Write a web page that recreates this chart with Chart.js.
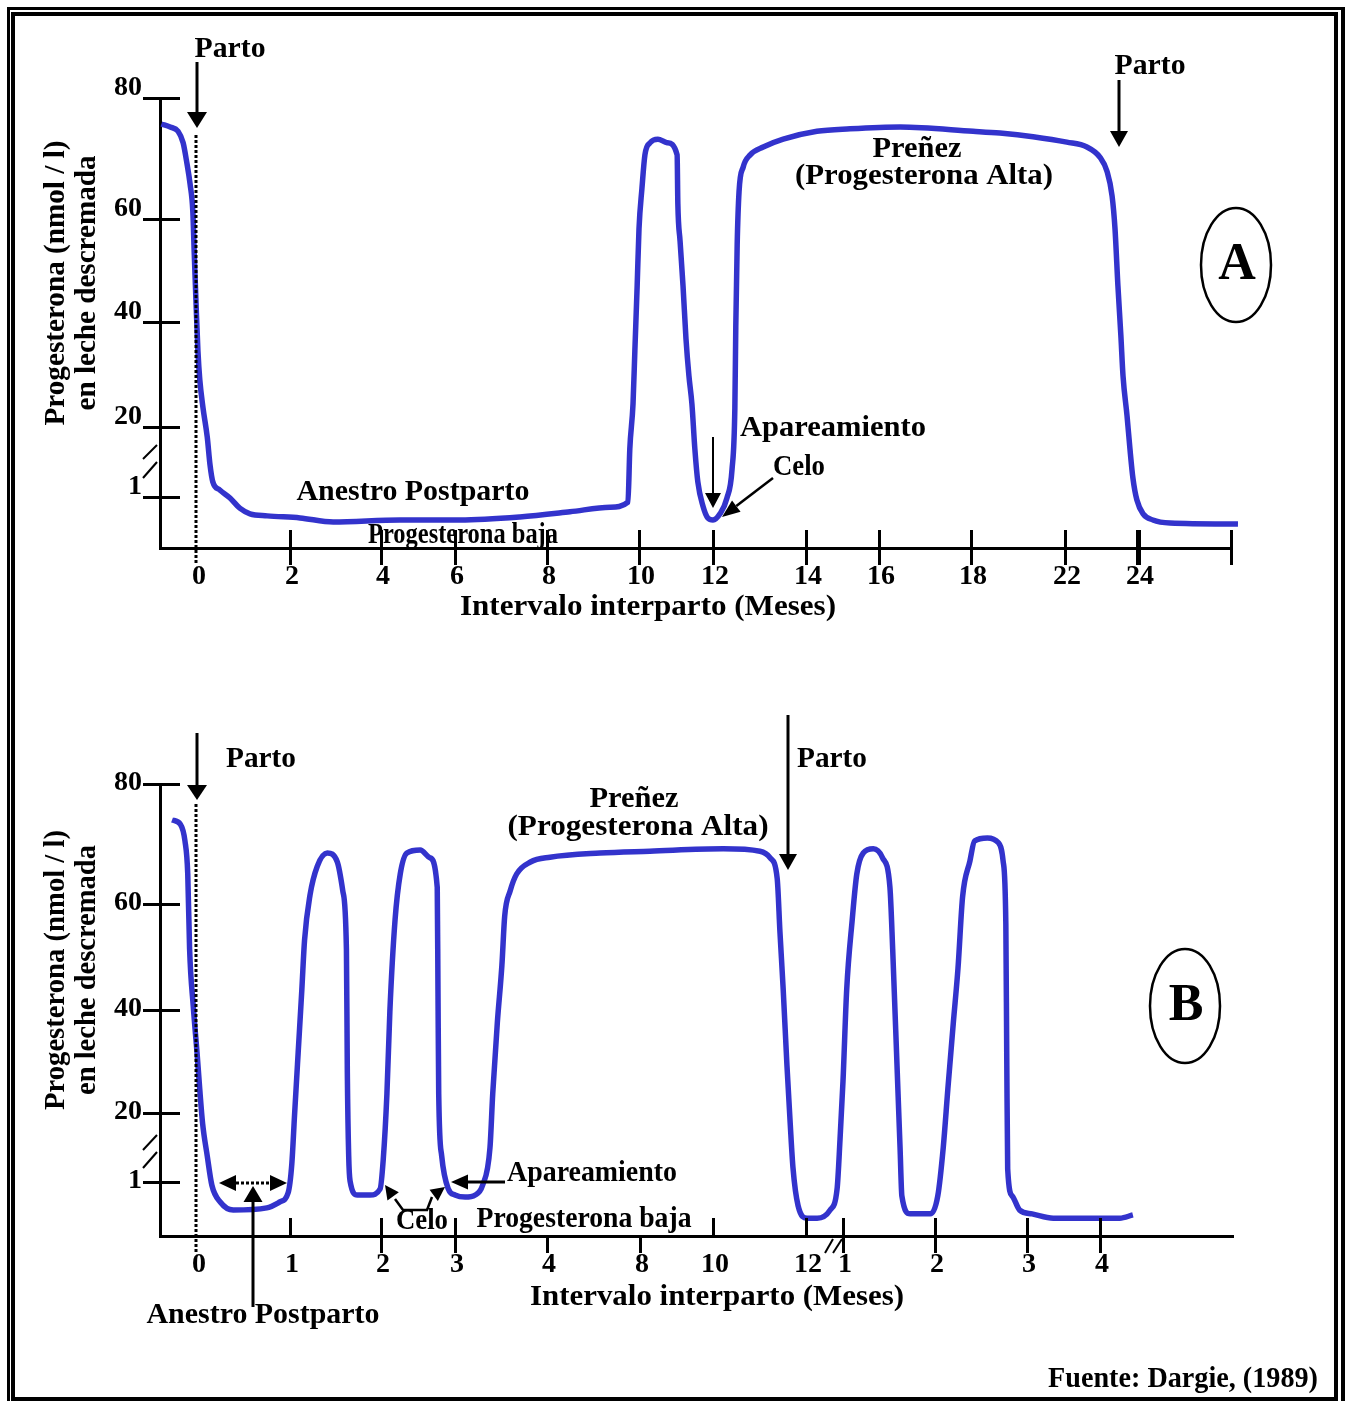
<!DOCTYPE html>
<html>
<head>
<meta charset="utf-8">
<script src="https://cdn.jsdelivr.net/npm/chart.js@4.4.1/dist/chart.umd.min.js"></script>
<style>
  body { margin: 0; background: #fff; }
  #pagina { position: relative; width: 1348px; height: 1401px; overflow: hidden; background: #fff; }
  .marco { position: absolute; box-sizing: border-box; border-style: solid; border-color: #000; }
  #m1 { left: 7px; top: 7px; width: 1338px; height: 1420px; border-width: 3px 4px 3px 3px; }
  #m2 { left: 11px; top: 12px; width: 1327px; height: 1389px; border-width: 4px; }
  canvas { position: absolute; left: 0; top: 0; }
</style>
</head>
<body>
<div id="pagina">
  <div class="marco" id="m1"></div>
  <div class="marco" id="m2"></div>
  <canvas id="graficoA" width="1348" height="1401"></canvas>
  <canvas id="graficoB" width="1348" height="1401"></canvas>
</div>
<script>
// ---------- datos ----------
// Grafico A: un parto cada 24 meses
const mesesA = [-0.77,-0.58,-0.41,-0.30,-0.22,-0.15,-0.09,-0.06,-0.02,0.02,
  0.06,0.13,0.22,0.28,0.34,0.49,0.71,0.92,1.14,1.51,
  2.22,2.95,4.51,6.11,7.41,8.50,9.37,9.76,9.80,9.87,
  9.91,9.96,10.00,10.08,10.16,10.30,10.51,10.76,11.03,11.05,
  11.11,11.19,11.27,11.35,11.43,11.51,11.59,11.73,11.86,12.00,
  12.15,12.30,12.41,12.47,12.49,12.52,12.56,12.65,12.80,13.08,
  13.51,14.30,15.21,16.46,18.09,19.23,20.64,22.05,22.60,22.96,
  23.15,23.29,23.37,23.45,23.53,23.59,23.70,23.78,23.86,23.97,
  24.11,24.32,24.69,26.15];
const progA = [75.7,75.2,74.5,72.6,69.3,65.8,61.2,53.4,43.5,34.5,
  29.0,23.6,17.3,9.7,5.1,2.9,0.98,0.78,0.67,0.63,
  0.59,0.51,0.55,0.55,0.61,0.71,0.80,0.90,14.0,24.4,
  34.5,47.0,58.1,65.1,70.6,72.6,73.2,72.6,70.6,62.5,
  55.7,47.0,36.8,29.7,24.4,14.0,5.1,0.82,0.59,0.55,
  0.67,0.98,8.6,23.6,39.0,55.0,64.5,68.6,70.6,71.9,
  73.2,74.5,74.9,75.2,74.5,74.2,73.6,72.7,71.9,70.2,
  67.9,63.8,58.1,47.0,37.5,29.7,22.1,14.0,6.2,0.94,
  0.67,0.55,0.49,0.47];
const ticksXA = [0,2,4,6,8,10,12,14,16,18,22,24,26];
const etiquetasXA = ['0','2','4','6','8','10','12','14','16','18','22','24',''];

// Grafico B: parto, celos repetidos y nuevo parto (13..16 = meses 1..4 del siguiente)
const mesesB = [-0.27,-0.18,-0.13,-0.10,-0.08,-0.04,0.00,0.03,0.06,0.11,
  0.16,0.25,0.39,0.75,0.89,0.98,1.02,1.05,1.09,1.13,
  1.16,1.22,1.30,1.41,1.52,1.58,1.62,1.63,1.645,1.66,
  1.74,1.88,1.99,2.03,2.08,2.12,2.19,2.26,2.35,2.53,
  2.66,2.76,2.77,2.78,2.82,2.91,3.00,3.11,3.22,3.30,
  3.38,3.41,3.46,3.51,3.54,3.60,3.67,3.82,4.13,6.28,
  8.27,10.22,11.01,11.23,11.38,11.44,11.51,11.59,11.66,11.72,
  11.83,12.03,12.30,12.65,12.84,12.92,13.00,13.04,13.10,13.15,
  13.22,13.33,13.43,13.51,13.54,13.59,13.62,13.64,13.73,13.95,
  14.03,14.09,14.14,14.20,14.25,14.30,14.38,14.43,14.57,14.69,
  14.74,14.77,14.78,14.79,14.84,14.92,15.07,15.36,16.27,16.45];
const progB = [74.0,73.3,70.5,65.0,51.5,40.6,31.8,24.5,17.2,8.2,
  0.94,0.63,0.48,0.52,0.63,0.80,6.0,19.4,31.8,43.8,
  53.2,61.5,66.3,68.5,67.0,62.2,51.5,27.8,8.2,1.3,
  0.76,0.76,0.87,7.1,23.7,39.8,57.0,65.0,68.5,69.0,
  67.7,62.8,43.8,23.7,8.2,0.87,0.76,0.72,0.76,0.94,
  10.4,23.7,37.5,48.5,57.7,62.2,65.0,67.0,67.8,68.5,
  68.8,69.2,68.8,67.7,64.3,54.7,43.8,29.3,17.2,4.9,
  0.56,0.33,0.33,0.48,0.87,12.8,26.2,43.8,57.0,65.0,
  68.5,69.2,67.7,62.8,51.5,27.8,10.6,0.74,0.41,0.41,
  0.74,10.6,24.7,37.7,47.9,61.2,67.2,70.5,71.0,70.2,
  67.2,56.2,30.7,4.6,0.74,0.48,0.41,0.33,0.33,0.39];
const ticksXB = [0,1,2,3,4,8,10,12,13,14,15,16];
const etiquetasXB = ['0','1','2','3','4','8','10','12','1','2','3','4'];

const ticksY = [1,20,40,60,80];
const etiquetasY = ['1','20','40','60','80'];

// ---------- escala por tramos (eje cortado, separaciones desiguales) ----------
const TRAMOS = {
  'A-x': { valores: [-0.8,0,2,4,6,8,10,12,14,16,18,22,24,26], px: [0,37,130,221,295,387,479,553,646,719,811,905,978,1071] },
  'A-y': { valores: [0,1,20,40,60,80], px: [0,51,121,226,329,450] },
  'B-x': { valores: [-0.4,0,1,2,3,4,8,10,12,13,14,15,16,17.82], px: [0,37,130,221,295,387,480,553,646,683,775,867,940,1073] },
  'B-y': { valores: [0,1,20,40,60,80], px: [0,54,123,226,332,452] }
};

function interpola(v, xs, ys) {
  const n = xs.length;
  let i = 1;
  if (v >= xs[n - 1]) i = n - 1;
  else if (v > xs[0]) { while (v > xs[i]) i++; }
  const t = (v - xs[i - 1]) / (xs[i] - xs[i - 1]);
  return ys[i - 1] + t * (ys[i] - ys[i - 1]);
}

class EscalaTramos extends Chart.LinearScale {
  getPixelForValue(v) {
    if (v === null || v === undefined || isNaN(v)) return NaN;
    const t = TRAMOS[this.options.clave];
    const off = interpola(v, t.valores, t.px);
    return this.isHorizontal() ? this.left + off : this.bottom - off;
  }
  getValueForPixel(p) {
    const t = TRAMOS[this.options.clave];
    const off = this.isHorizontal() ? p - this.left : this.bottom - p;
    return interpola(off, t.px, t.valores);
  }
}
EscalaTramos.id = 'tramos';
Chart.register(EscalaTramos);

// ---------- dibujo de anotaciones ----------
const FUENTE = '"Liberation Serif", "Times New Roman", serif';
const azul = '#3333cc';

function texto(ctx, s, cx, cy, ancho, tam, rot) {
  ctx.save();
  ctx.font = 'bold ' + (tam || 29) + 'px ' + FUENTE;
  ctx.textAlign = 'center';
  ctx.textBaseline = 'middle';
  ctx.fillStyle = '#000';
  ctx.translate(cx, cy);
  if (rot) ctx.rotate(rot);
  const w = ctx.measureText(s).width;
  if (ancho) ctx.scale(ancho / w, 1);
  ctx.fillText(s, 0, 0);
  ctx.restore();
}

function linea(ctx, pts, lw, guion) {
  ctx.save();
  ctx.lineWidth = lw;
  if (guion) ctx.setLineDash(guion);
  ctx.beginPath();
  ctx.moveTo(pts[0][0], pts[0][1]);
  for (let i = 1; i < pts.length; i++) ctx.lineTo(pts[i][0], pts[i][1]);
  ctx.stroke();
  ctx.restore();
}

function punta(ctx, x1, y1, x2, y2, largo, ancho) {
  const a = Math.atan2(y2 - y1, x2 - x1);
  const bx = x2 - largo * Math.cos(a), by = y2 - largo * Math.sin(a);
  ctx.beginPath();
  ctx.moveTo(x2, y2);
  ctx.lineTo(bx + ancho / 2 * Math.sin(a), by - ancho / 2 * Math.cos(a));
  ctx.lineTo(bx - ancho / 2 * Math.sin(a), by + ancho / 2 * Math.cos(a));
  ctx.closePath();
  ctx.fill();
  return [bx, by];
}

function flecha(ctx, x1, y1, x2, y2, lw, largo, ancho, guion) {
  const b = punta(ctx, x1, y1, x2, y2, largo, ancho);
  linea(ctx, [[x1, y1], b], lw, guion);
}

function elipse(ctx, cx, cy, rx, ry, letra) {
  ctx.save();
  ctx.lineWidth = 2.5;
  ctx.beginPath();
  ctx.ellipse(cx, cy, rx, ry, 0, 0, Math.PI * 2);
  ctx.stroke();
  ctx.restore();
  texto(ctx, letra, cx + 1, cy + 1, null, 52);
}

function hacerPlugin(cfg) {
  return {
    id: 'dibujo' + cfg.nombre,
    afterDraw(chart) {
      const ctx = chart.ctx;
      const xs = chart.scales.x, ys = chart.scales.y;
      const eje = chart.chartArea.bottom;
      ctx.save();
      ctx.fillStyle = '#000';
      ctx.strokeStyle = '#000';

      // marcas del eje y (cruzan el eje)
      ys.ticks.forEach(t => {
        const y = Math.round(ys.getPixelForValue(t.value));
        ctx.fillRect(143, y - 1, 37, 3);
      });
      // marcas del eje x
      xs.ticks.forEach((t, i) => {
        const tipo = cfg.tipoTick[i];
        if (tipo === 'n') return;
        const x = Math.round(xs.getPixelForValue(t.value));
        const g = tipo === 'g' ? 5 : 3;
        let y1 = eje - 18, y2 = eje + 17;
        if (tipo === 'a') y2 = eje;
        if (tipo === 'b') y1 = eje;
        ctx.fillRect(x - Math.floor(g / 2), y1, g, y2 - y1);
      });
      // linea punteada del parto (mes 0)
      const x0 = Math.round(xs.getPixelForValue(0)) - 1;
      linea(ctx, [[x0, cfg.punteada[0]], [x0, cfg.punteada[1]]], 3, [3, 2]);
      // cortes de eje
      cfg.cortes.forEach(c => linea(ctx, c, 2));

      // flechas
      cfg.flechas.forEach(f => flecha(ctx, f[0], f[1], f[2], f[3], f[4], f[5], f[6], f[7]));
      if (cfg.extra) cfg.extra(ctx, xs, ys);

      // textos
      cfg.textos.forEach(t => texto(ctx, t[0], t[1], t[2], t[3], t[4]));
      // titulo del eje y, dos lineas giradas
      texto(ctx, 'Progesterona (nmol / l)', 57, cfg.tituloY[0], cfg.tituloY[1], 29, -Math.PI / 2);
      texto(ctx, 'en leche descremada', 88, cfg.tituloY[0], cfg.tituloY[2], 29, -Math.PI / 2);

      elipse(ctx, cfg.elipse[0], cfg.elipse[1], 35, 57, cfg.elipse[2]);
      ctx.restore();
    }
  };
}

function ejes(clave, ticksX, etiqX, minX, maxX, desplY) {
  const fuenteTick = { family: FUENTE, weight: 'bold', size: 28 };
  return {
    x: {
      type: 'tramos', clave: clave + '-x', position: 'bottom', min: minX, max: maxX, bounds: 'data',
      afterBuildTicks: s => { s.ticks = ticksX.map(v => ({ value: v })); },
      afterFit: s => { s.height = 60; },
      grid: { display: false, drawTicks: false },
      border: { display: true, color: '#000', width: 3 },
      ticks: { autoSkip: false, maxRotation: 0, padding: 12, labelOffset: 2, color: '#000', font: fuenteTick,
               callback: (v, i) => etiqX[i] }
    },
    y: {
      type: 'tramos', clave: clave + '-y', position: 'left', min: 0, max: 80, bounds: 'data',
      afterBuildTicks: s => { s.ticks = ticksY.map(v => ({ value: v })); },
      afterFit: s => { s.width = 60; },
      grid: { display: false, drawTicks: false },
      border: { display: true, color: '#000', width: 3 },
      ticks: { autoSkip: false, padding: 18, labelOffset: desplY, color: '#000', font: fuenteTick,
               callback: (v, i) => etiquetasY[i] }
    }
  };
}

function serie(meses, prog) {
  return {
    data: meses.map((m, i) => ({ x: m, y: prog[i] })),
    borderColor: azul, borderWidth: 5.5, pointRadius: 0,
    cubicInterpolationMode: 'monotone', fill: false, clip: false
  };
}

// ---------- grafico A ----------
new Chart(document.getElementById('graficoA'), {
  type: 'line',
  data: { datasets: [serie(mesesA, progA)] },
  options: {
    responsive: false, animation: false, devicePixelRatio: 1, events: [],
    layout: { padding: { left: 100, top: 98, right: 117, bottom: 793 } },
    plugins: { legend: { display: false }, tooltip: { enabled: false } },
    scales: ejes('A', ticksXA, etiquetasXA, -0.8, 26, -10)
  },
  plugins: [hacerPlugin({
    nombre: 'A',
    tipoTick: ['n','c','c','c','c','c','c','c','c','c','c','g','c'],
    punteada: [135, 565],
    cortes: [[[143, 459], [157, 445]], [[143, 478], [157, 462]]],
    flechas: [
      [197, 62, 197, 128, 3, 16, 20],
      [1119, 80, 1119, 147, 3, 16, 18],
      [713, 437, 713, 508, 2, 15, 16],
      [773, 478, 722, 517, 2.5, 18, 14]
    ],
    textos: [
      ['Parto', 230, 50, 71],
      ['Parto', 1150, 67, 71],
      ['Preñez', 917, 150, 89],
      ['(Progesterona Alta)', 924, 177, 258],
      ['Apareamiento', 833, 429, 186],
      ['Celo', 799, 468, 52],
      ['Anestro Postparto', 413, 493, 233],
      ['Progesterona baja', 463, 536, 190],
      ['Intervalo interparto (Meses)', 648, 608, 376]
    ],
    tituloY: [283, 285, 255],
    elipse: [1236, 265, 'A']
  })]
});

// ---------- grafico B ----------
new Chart(document.getElementById('graficoB'), {
  type: 'line',
  data: { datasets: [serie(mesesB, progB)] },
  options: {
    responsive: false, animation: false, devicePixelRatio: 1, events: [],
    layout: { padding: { left: 100, top: 784, right: 115, bottom: 105 } },
    plugins: { legend: { display: false }, tooltip: { enabled: false } },
    scales: ejes('B', ticksXB, etiquetasXB, -0.4, 17.82, -1)
  },
  plugins: [hacerPlugin({
    nombre: 'B',
    tipoTick: ['n','a','c','c','b','b','a','a','c','c','c','c'],
    punteada: [804, 1253],
    cortes: [[[143, 1150], [157, 1135]], [[143, 1168], [157, 1152]],
             [[825, 1253], [833, 1239]], [[833, 1253], [842, 1239]]],
    flechas: [
      [197, 733, 197, 800, 3, 15, 20],
      [788, 715, 788, 870, 3, 16, 18],
      [253, 1307, 253, 1186, 3, 16, 19],
      [505, 1182, 451, 1182, 3, 17, 15]
    ],
    extra: (ctx) => {
      // flecha doble punteada del anestro
      linea(ctx, [[236, 1183], [273, 1183]], 3, [3, 2]);
      punta(ctx, 240, 1183, 219, 1183, 17, 16);
      punta(ctx, 268, 1183, 287, 1183, 17, 16);
      // flechas del celo
      linea(ctx, [[428, 1210], [403, 1210], [395, 1199]], 2.5);
      punta(ctx, 395, 1199, 385, 1185, 14, 14);
      linea(ctx, [[427, 1210], [432, 1197]], 2.5);
      punta(ctx, 430, 1198, 445, 1187, 14, 14);
    },
    textos: [
      ['Parto', 261, 760, 70],
      ['Parto', 832, 760, 70],
      ['Preñez', 634, 800, 89],
      ['(Progesterona Alta)', 638, 828, 261],
      ['Apareamiento', 592, 1174, 170],
      ['Celo', 422, 1222, 52],
      ['Progesterona baja', 584, 1220, 215],
      ['Anestro Postparto', 263, 1316, 233],
      ['Intervalo interparto (Meses)', 717, 1298, 374],
      ['Fuente: Dargie, (1989)', 1183, 1380, 270]
    ],
    tituloY: [970, 280, 250],
    elipse: [1185, 1006, 'B']
  })]
});
</script>
</body>
</html>
